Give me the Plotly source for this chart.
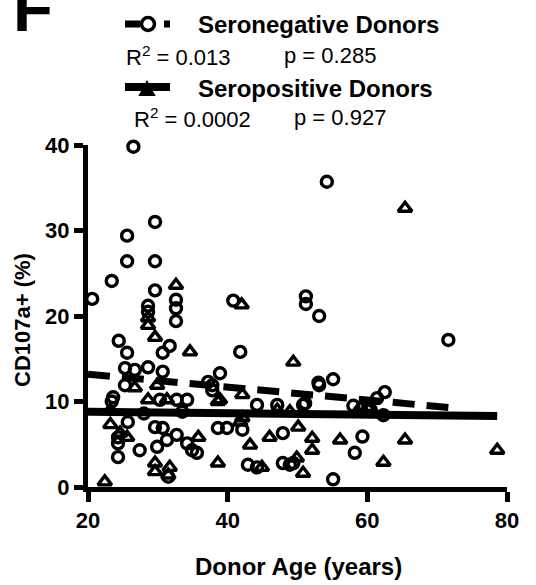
import plotly.graph_objects as go

# ---- data ----
neg_age = [26.5, 25.6, 29.6, 25.6, 29.6, 23.4, 29.6, 20.6, 32.6, 32.6, 32.6, 28.6, 28.6,
           40.8, 51.2, 51.2, 53.1, 54.2, 71.6, 24.4, 25.6, 31.7, 30.7, 41.8, 25.3, 26.7,
           28.6, 30.7, 38.9, 37.8, 37.8, 53.0, 55.1, 53.1, 62.5, 61.4, 51.1, 25.3, 23.6,
           23.4, 44.2, 47.1, 50.8, 30.3, 32.7, 34.2, 25.7, 29.6, 30.7, 38.6, 39.9, 42.1,
           47.9, 24.3, 24.3, 27.4, 24.3, 29.9, 31.3, 32.7, 34.2, 34.9, 35.6, 42.9, 44.2,
           47.9, 48.9, 31.5, 59.3, 58.2, 55.1, 49.4, 62.3, 37.2, 28.0, 33.5, 58.0, 60.5]
neg_val = [39.8, 29.4, 31.0, 26.4, 26.4, 24.1, 23.0, 22.0, 21.9, 20.9, 19.4, 21.2, 20.5,
           21.8, 22.3, 21.4, 20.0, 35.7, 17.2, 17.1, 15.7, 16.5, 15.7, 15.8, 13.9, 13.7,
           14.0, 13.5, 13.3, 11.9, 11.3, 12.2, 12.6, 11.9, 11.1, 10.4, 9.8, 11.9, 10.5,
           10.0, 9.6, 9.6, 9.6, 10.2, 10.2, 10.2, 7.6, 7.0, 6.9, 6.9, 6.9, 6.7,
           6.3, 5.8, 5.1, 4.3, 3.5, 4.7, 5.5, 6.1, 5.1, 4.3, 4.0, 2.6, 2.3,
           2.8, 2.6, 1.2, 5.9, 4.0, 0.9, 2.8, 8.4, 12.3, 8.6, 8.8, 9.5, 9.0]

pos_age = [32.6, 28.6, 28.6, 42.0, 65.4, 78.6, 49.4, 29.6, 34.6, 26.7, 42.1, 38.9, 28.6,
           31.3, 23.2, 23.2, 42.1, 35.8, 43.2, 46.0, 50.1, 25.6, 38.6, 44.9, 49.9, 50.8,
           29.6, 29.6, 31.7, 22.4, 52.1, 52.1, 56.1, 65.4, 62.3, 24.6, 47.1, 48.9, 41.8,
           29.9, 38.6, 31.5, 59.0, 60.0]
pos_val = [23.6, 19.8, 18.9, 21.3, 32.6, 4.3, 14.6, 17.5, 15.8, 11.6, 10.8, 10.2, 10.2,
           10.2, 9.0, 7.3, 8.1, 5.8, 4.9, 5.8, 7.0, 5.8, 2.8, 2.3, 3.4, 1.6,
           2.8, 1.8, 2.3, 0.6, 5.7, 4.3, 5.5, 5.5, 2.9, 6.3, 9.0, 8.8, 7.6,
           11.9, 10.0, 1.4, 9.3, 9.3]

# regression lines (end points)
fit_neg_x = [20, 71.6]
fit_neg_y = [13.2, 9.3]
fit_pos_x = [20, 78.6]
fit_pos_y = [8.8, 8.3]

x_ticks = [20, 40, 60, 80]
y_ticks = [0, 10, 20, 30, 40]

W, H = 536, 585
FONT = "Liberation Sans, Arial, sans-serif"

fig = go.Figure()
fig.add_trace(go.Scatter(x=neg_age, y=neg_val, mode="markers", cliponaxis=False,
                         marker=dict(symbol="circle-open", size=11, color="black",
                                     line=dict(width=3.4, color="black")),
                         showlegend=False))
fig.add_trace(go.Scatter(x=pos_age, y=pos_val, mode="markers", cliponaxis=False,
                         marker=dict(symbol="triangle-up-open", size=12, color="black",
                                     line=dict(width=3.4, color="black")),
                         showlegend=False))
fig.add_trace(go.Scatter(x=fit_neg_x, y=fit_neg_y, mode="lines", cliponaxis=False,
                         line=dict(color="black", width=7, dash="22px,12px"),
                         showlegend=False))
fig.add_trace(go.Scatter(x=fit_pos_x, y=fit_pos_y, mode="lines", cliponaxis=False,
                         line=dict(color="black", width=8),
                         showlegend=False))

def px(x):
    return x / W

def py(y):
    return 1 - y / H

shapes = []
# legend glyph: seronegative
shapes.append(dict(type="line", xref="paper", yref="paper", x0=px(125), x1=px(140),
                   y0=py(24), y1=py(24), line=dict(color="black", width=7)))
shapes.append(dict(type="circle", xref="paper", yref="paper", x0=px(141.5), x1=px(154.5),
                   y0=py(30.5), y1=py(17.5), fillcolor="white",
                   line=dict(color="black", width=3.5)))
shapes.append(dict(type="line", xref="paper", yref="paper", x0=px(164), x1=px(170),
                   y0=py(24), y1=py(24), line=dict(color="black", width=7)))
# legend glyph: seropositive
shapes.append(dict(type="line", xref="paper", yref="paper", x0=px(125), x1=px(170),
                   y0=py(87), y1=py(87), line=dict(color="black", width=8)))
shapes.append(dict(type="path", xref="paper", yref="paper",
                   path=f"M {px(140)} {py(95)} L {px(154)} {py(95)} L {px(147)} {py(82)} Z",
                   fillcolor="black", line=dict(color="black", width=2)))

ann = []
ann.append(dict(text="<b>F</b>", x=px(11), y=py(47), xref="paper", yref="paper",
                xanchor="left", yanchor="bottom", showarrow=False,
                font=dict(family=FONT, size=65, color="black")))
ann.append(dict(text="<b>Seronegative Donors</b>", x=px(196), y=py(25), xref="paper", yref="paper",
                xanchor="left", yanchor="middle", showarrow=False,
                font=dict(family=FONT, size=24, color="black")))
ann.append(dict(text="R<sup>2</sup> = 0.013", x=px(124), y=py(56), xref="paper", yref="paper",
                xanchor="left", yanchor="middle", showarrow=False,
                font=dict(family=FONT, size=22, color="black")))
ann.append(dict(text="p = 0.285", x=px(282), y=py(56), xref="paper", yref="paper",
                xanchor="left", yanchor="middle", showarrow=False,
                font=dict(family=FONT, size=22, color="black")))
ann.append(dict(text="<b>Seropositive Donors</b>", x=px(196), y=py(88), xref="paper", yref="paper",
                xanchor="left", yanchor="middle", showarrow=False,
                font=dict(family=FONT, size=24, color="black")))
ann.append(dict(text="R<sup>2</sup> = 0.0002", x=px(132), y=py(118), xref="paper", yref="paper",
                xanchor="left", yanchor="middle", showarrow=False,
                font=dict(family=FONT, size=22, color="black")))
ann.append(dict(text="p = 0.927", x=px(292), y=py(118), xref="paper", yref="paper",
                xanchor="left", yanchor="middle", showarrow=False,
                font=dict(family=FONT, size=22, color="black")))
ann.append(dict(text="<b>Donor Age (years)</b>", x=px(298), y=py(566), xref="paper", yref="paper",
                xanchor="center", yanchor="middle", showarrow=False,
                font=dict(family=FONT, size=24, color="black")))
ann.append(dict(text="<b>CD107a+ (%)</b>", x=px(22), y=py(320), xref="paper", yref="paper",
                xanchor="center", yanchor="middle", showarrow=False, textangle=-90,
                font=dict(family=FONT, size=22, color="black")))

fig.update_layout(
    width=W, height=H, autosize=False,
    margin=dict(l=0, r=0, t=0, b=0, pad=0),
    paper_bgcolor="white", plot_bgcolor="white",
    font=dict(family=FONT, color="black"),
    shapes=shapes, annotations=ann,
    xaxis=dict(domain=[88 / W, 507 / W], range=[20, 80], tickvals=x_ticks,
               ticktext=[f"<b>{v}</b>" for v in x_ticks], automargin=False,
               showgrid=False, zeroline=False, showline=True, linewidth=5, linecolor="black",
               ticks="outside", ticklen=10, tickwidth=5, tickcolor="black",
               tickfont=dict(family=FONT, size=22, color="black")),
    yaxis=dict(domain=[(H - 487) / H, (H - 145) / H], range=[0, 40], tickvals=y_ticks,
               ticktext=[f"<b>{v}</b>" for v in y_ticks], automargin=False,
               showgrid=False, zeroline=False, showline=True, linewidth=5, linecolor="black",
               ticks="outside", ticklen=9, tickwidth=5, tickcolor="black",
               tickfont=dict(family=FONT, size=22, color="black")),
)

fig.write_html("out.html")
